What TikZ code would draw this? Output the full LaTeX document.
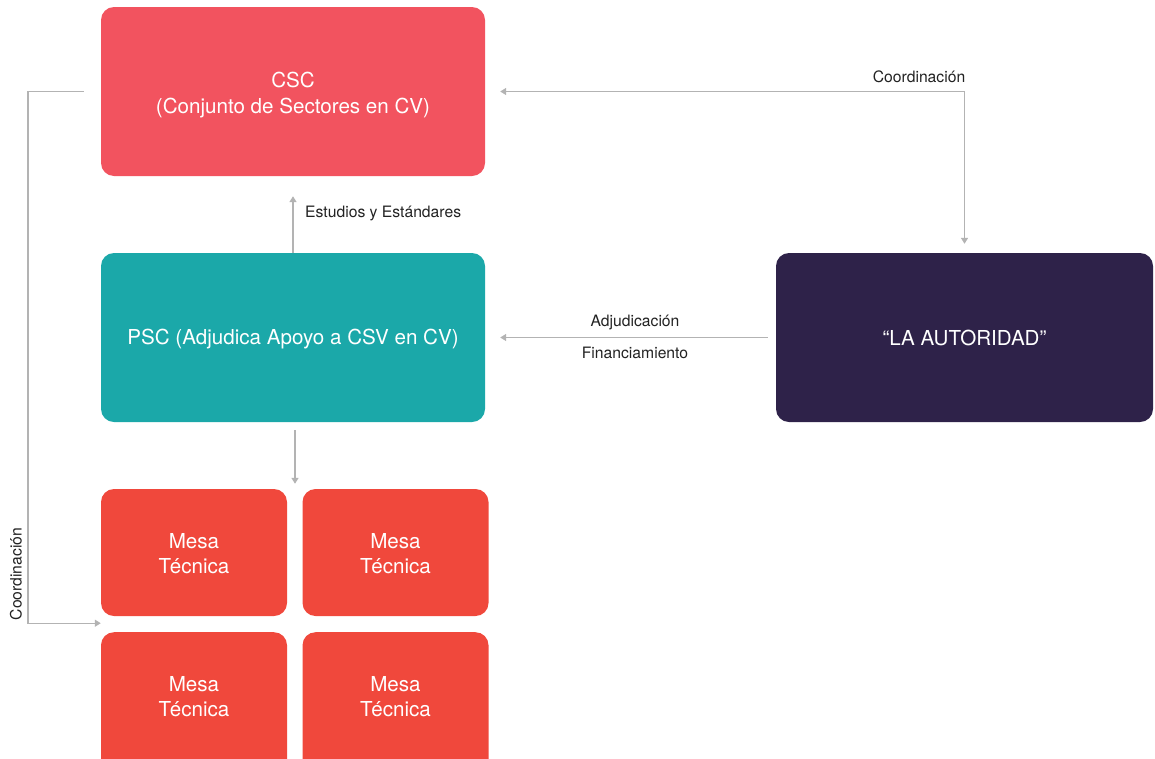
\documentclass[tikz,border=0pt]{standalone}
\usepackage{fontspec}
\setmainfont{TeX Gyre Heros}
\usetikzlibrary{arrows.meta,calc}
\definecolor{cscred}{HTML}{F2535F}
\definecolor{pscteal}{HTML}{1BA8A9}
\definecolor{authdark}{HTML}{2E2249}
\definecolor{mesared}{HTML}{F0483C}
\definecolor{linegray}{HTML}{B3B3B3}
\definecolor{labeltext}{HTML}{222222}
\tikzset{
  box/.style={rounded corners=13pt, inner sep=0pt, align=center, text=white,
    font=\fontsize{20.6}{26}\selectfont},
  bigbox/.style={box, minimum width=384pt, minimum height=169pt},
  mesabox/.style={box, fill=mesared, minimum width=186pt, minimum height=127pt,
    font=\fontsize{20.6}{25}\selectfont},
  mesatext/.style={inner sep=0pt, align=center, text=white, font=\fontsize{20.6}{25}\selectfont},
  conn/.style={draw=linegray, line width=1.4pt, -{Triangle[width=7pt,length=6pt]}},
  conn2/.style={draw=linegray, line width=1.4pt, {Triangle[width=7pt,length=6pt]}-{Triangle[width=7pt,length=6pt]}},
  lbl/.style={text=labeltext, inner sep=0pt, font=\fontsize{15.7}{18}\selectfont}
}
\begin{document}
\begin{tikzpicture}[x=1pt,y=-1pt]
\useasboundingbox (0,0) rectangle (1155,758);
\node[bigbox, fill=cscred] (csc) at (293,91.5) {\rule{0pt}{21.5pt}CSC\\(Conjunto de Sectores en CV)};
\node[bigbox, fill=pscteal] (psc) at (293,337.5) {\rule{0pt}{19pt}PSC (Adjudica Apoyo a CSV en CV)};
\node[box, fill=authdark, minimum width=377pt, minimum height=169pt] (auth) at (964.5,337.5) {“LA AUTORIDAD”};
\node[mesabox] (mt1) at (194,552.5) {\rule{0pt}{18pt}Mesa\\Técnica};
\node[mesabox] (mt2) at (395.5,552.5) {\rule{0pt}{18pt}Mesa\\Técnica};
\node[mesabox, minimum height=150pt, anchor=north] (mt3) at (194,632) {};
\node[mesabox, minimum height=150pt, anchor=north] (mt4) at (395.5,632) {};
\node[mesatext] (mt3t) at (194,697) {Mesa\\Técnica};
\node[mesatext] (mt4t) at (395.5,697) {Mesa\\Técnica};
% left coordination
\coordinate (lstart) at ($(csc.west)+(-17,0)$);
\coordinate (lend) at ($(mt1.south west)+(0,7)$);
\draw[conn] (lstart) -- ++(-56,0) |- (lend);
\node[lbl, rotate=90] (lcoord) at (16,574) {Coordinación};
% right coordination
\coordinate (rstart) at ($(csc.east)+(15,0)$);
\coordinate (rcorner) at (auth.north |- csc.east);
\coordinate (rend) at ($(auth.north)+(0,-9)$);
\draw[conn2] (rstart) -- (rcorner) -- (rend);
\node[lbl] (rcoord) at (919,77) {Coordinación};
% estudios
\coordinate (estend) at ($(csc.south)+(0,20)$);
\draw[conn] (psc.north) -- (estend);
\node[lbl, anchor=west] (est) at (305,213) {Estudios y Estándares};
% adjudicacion
\coordinate (astart) at ($(auth.west)+(-8,0)$);
\coordinate (aend) at ($(psc.east)+(15,0)$);
\draw[conn] (astart) -- (aend);
\node[lbl] (adj) at (635,322) {Adjudicación};
\node[lbl] (fin) at (635,353) {Financiamiento};
% down to mesas
\coordinate (dstart) at ($(psc.south)+(2,8)$);
\coordinate (dend) at ($(mt1.north east)+(8,-5)$);
\draw[conn] (dstart) -- (dstart |- dend);
\end{tikzpicture}
\end{document}
